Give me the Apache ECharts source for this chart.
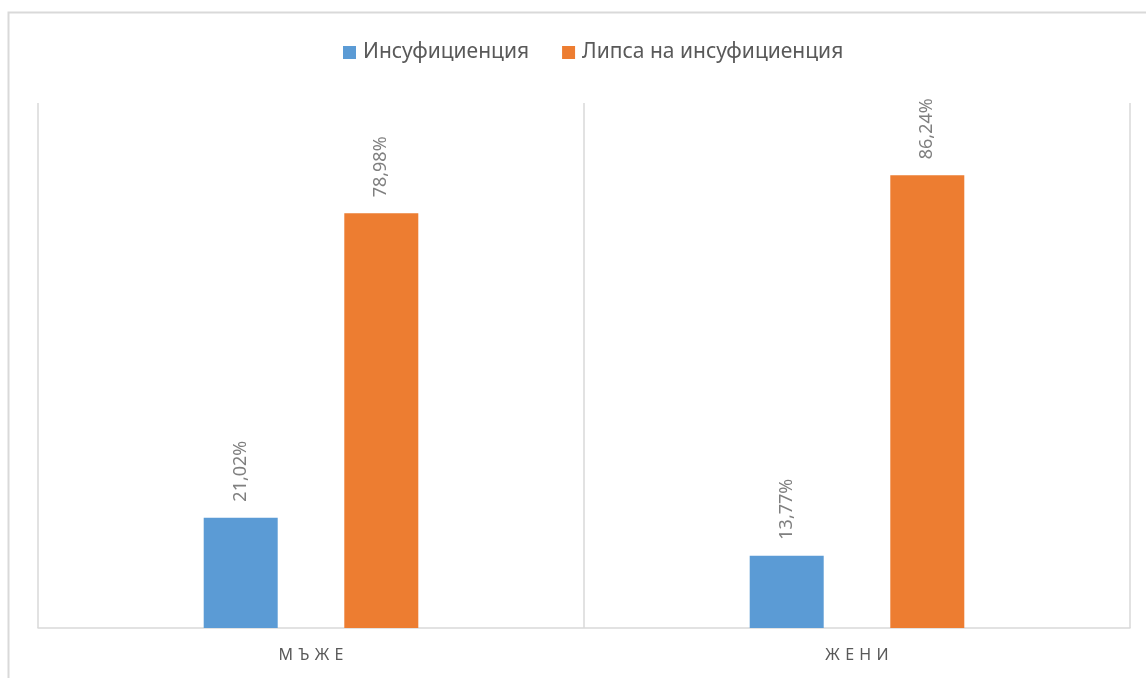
<!DOCTYPE html>
<html>
<head>
<meta charset="utf-8">
<script src="https://cdn.jsdelivr.net/npm/echarts@6/dist/echarts.min.js"></script>
<style>
  html, body { margin: 0; padding: 0; background: #fff; }
  #chart { width: 1146px; height: 678px; }
</style>
</head>
<body>
<div id="chart"></div>
<script>
// данни
var categories = ['МЪЖЕ', 'ЖЕНИ'];
var seriesNames = ['Инсуфициенция', 'Липса на инсуфициенция'];
var insuf = [21.02, 13.77];
var noInsuf = [78.98, 86.24];

function pct(p) {
  return p.value.toFixed(2).replace('.', ',') + '%';
}

var myChart = echarts.init(document.getElementById('chart'));
var labelStyle = {
  show: true,
  position: 'top',
  rotate: 90,
  distance: 16,
  align: 'left',
  verticalAlign: 'middle',
  color: '#7f7f7f',
  fontSize: 18,
  fontFamily: 'Noto Sans',
  formatter: pct
};

var option = {
  backgroundColor: '#fff',
  animation: false,
  color: ['#5b9bd5', '#ed7d31'],
  graphic: [{
    type: 'rect',
    shape: { x: 8.5, y: 12.5, width: 1300, height: 1000 },
    style: { fill: 'none', stroke: '#d9d9d9', lineWidth: 2 },
    silent: true
  }],
  legend: {
    top: 37,
    left: 338,
    itemWidth: 13,
    itemHeight: 13,
    itemGap: 33,
    icon: 'rect',
    textStyle: { color: '#595959', fontSize: 21, fontFamily: 'Noto Sans', padding: [0, 0, 0, 2] },
    data: seriesNames
  },
  grid: {
    left: 38,
    right: 16,
    top: 103,
    bottom: 50
  },
  xAxis: {
    type: 'category',
    data: categories,
    axisLine: { lineStyle: { color: '#d9d9d9', width: 1.5 } },
    axisTick: { show: false },
    splitLine: { show: true, lineStyle: { color: '#d9d9d9', width: 1.5 } },
    axisLabel: {
      color: '#595959',
      fontSize: 16,
      fontFamily: 'Noto Sans',
      margin: 19,
      formatter: function (v) { return v.split('').join('\u2004'); }
    }
  },
  yAxis: {
    type: 'value',
    min: 0,
    max: 100,
    show: false,
    splitLine: { show: false }
  },
  series: [
    {
      name: seriesNames[0],
      type: 'bar',
      barWidth: 74,
      barGap: '90%',
      data: insuf,
      label: labelStyle
    },
    {
      name: seriesNames[1],
      type: 'bar',
      barWidth: 74,
      barGap: '90%',
      data: noInsuf,
      label: labelStyle
    }
  ]
};
myChart.setOption(option);
</script>
</body>
</html>
